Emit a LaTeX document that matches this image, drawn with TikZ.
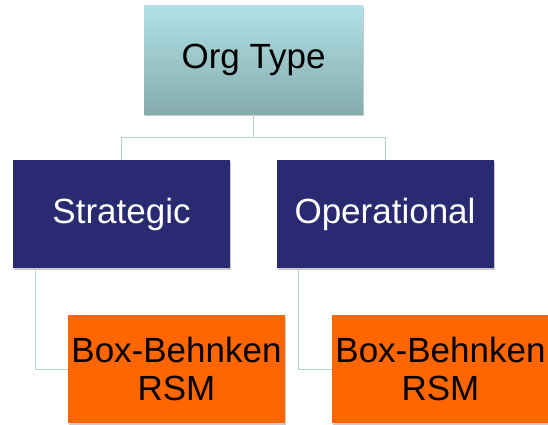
\documentclass[tikz,border=0pt]{standalone}
\usepackage{fontspec}
\setmainfont{Liberation Sans}
\usetikzlibrary{positioning, shadows, calc}

\definecolor{orgtop}{HTML}{B0E0E6}
\definecolor{orgbot}{HTML}{86ACAC}
\definecolor{navybox}{HTML}{2A2A72}
\definecolor{leaforange}{HTML}{FF6600}
\definecolor{linkgrey}{HTML}{B7D0D3}

\tikzset{
  softshadow/.style={drop shadow={shadow xshift=1pt, shadow yshift=-1.5pt, opacity=0.35, fill=black!60}},
  orgbox/.style={softshadow, top color=orgtop, bottom color=orgbot, draw=none,
    minimum width=219pt, minimum height=108pt, inner sep=0pt, text=black},
  typebox/.style={softshadow, fill=navybox, draw=none,
    minimum width=217pt, minimum height=108pt, inner sep=0pt, text=white},
  leafbox/.style={softshadow, fill=leaforange, draw=none, align=center,
    minimum width=217pt, minimum height=108pt, inner sep=0pt, text=black},
  link/.style={draw=linkgrey, line width=1pt}
}

\begin{document}
\begin{tikzpicture}[x=1pt, y=-1pt, font=\fontsize{35}{38}\selectfont]
\useasboundingbox (0,0) rectangle (548,425);

% Root
\node[orgbox] (org) at (253.5,60) {Org Type};

% Type level
\node[typebox] (strat) at (121.5,214) {Strategic};
\node[typebox] (oper) at (385,214) {Operational};

% Leaf level
\node[leafbox] (leafa) at (176.5,369) {Box-Behnken\\RSM};
\node[leafbox] (leafb) at (440.5,369) {Box-Behnken\\RSM};

% Connectors
\coordinate (bus) at ($(org.south)+(0,23.5)$);
\draw[link] (org.south) -- (bus) -| (strat.north);
\draw[link] (bus) -| (oper.north);
\draw[link] ([xshift=23pt]strat.south west) |- (leafa.west);
\draw[link] ([xshift=22pt]oper.south west) |- (leafb.west);

\end{tikzpicture}
\end{document}
